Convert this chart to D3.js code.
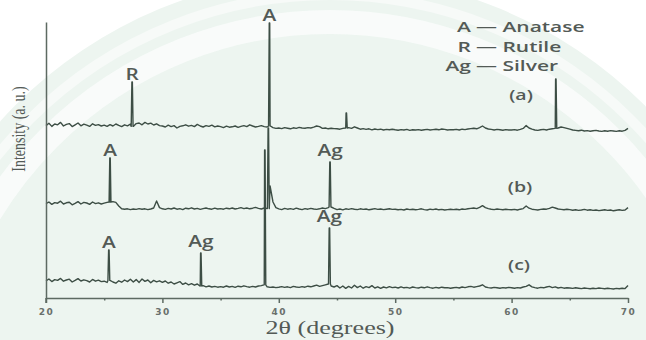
<!DOCTYPE html>
<html>
<head>
<meta charset="utf-8">
<script src="https://cdn.jsdelivr.net/npm/d3@7"></script>
<style>
  html, body { margin: 0; padding: 0; background: #ffffff; }
  svg { display: block; }
</style>
</head>
<body>
<svg id="chart" width="646" height="340"></svg>
<script>
// XRD patterns of three TiO2 / Ag samples, stacked with vertical offsets.
// Scan: 20–70° 2θ, 0.25° step; intensities in arbitrary counts.
const scanStart = 20, scanStep = 0.25;

const scanA = [
  62,74,58,70,66,78,60,68,72,57,66,75,61,69,64,58,71,63,67,60,
  64,58,67,60,70,63,57,66,61,69,58,72,75,66,78,70,74,65,71,62,
  60,55,64,57,62,50,58,61,66,59,63,57,68,60,55,62,58,64,56,60,
  57,52,59,54,56,60,53,58,62,57,66,60,55,58,62,57,55,60,52,48,
  50,47,52,49,46,51,48,53,50,49,52,50,54,60,57,48,50,46,49,47,
  46,44,48,50,52,48,56,50,44,47,43,46,41,45,42,44,40,43,41,44,
  41,39,42,40,43,38,41,40,42,39,41,43,40,42,44,41,45,43,40,42,
  41,43,40,44,42,45,47,49,46,52,60,50,45,43,40,43,41,39,42,40,
  40,42,39,43,48,62,50,44,40,38,41,43,40,44,46,48,50,55,52,48,
  44,40,38,36,39,35,37,34,36,38,35,33,36,34,37,35,33,36,34,38,
  48
];
const scanB = [
  72,80,68,77,74,84,70,76,79,66,73,82,70,78,75,68,80,72,76,70,
  74,78,80,82,78,60,46,44,46,42,45,43,47,44,46,42,45,50,85,52,
  46,43,48,45,50,44,47,42,49,46,51,45,48,43,47,50,46,44,49,45,
  47,44,49,46,50,45,48,52,47,50,46,49,53,48,45,50,47,160,80,52,
  46,42,48,44,47,43,49,45,42,47,44,48,45,43,46,50,47,52,55,48,
  42,45,41,46,43,47,44,42,46,43,45,41,44,47,43,45,42,44,46,43,
  44,41,43,40,45,42,44,41,43,46,42,40,44,42,45,41,43,40,42,44,
  42,44,41,45,43,46,48,50,47,53,62,52,47,44,42,45,43,41,44,42,
  41,43,40,44,47,60,49,44,42,40,43,45,44,48,54,50,45,43,41,44,
  42,39,41,38,40,43,39,41,38,40,37,39,41,38,40,36,39,41,38,40,
  52
];
const scanC = [
  86,95,82,92,88,98,84,90,94,80,88,97,85,91,87,80,93,84,89,82,
  84,78,88,80,74,86,79,90,82,94,80,92,78,95,83,90,76,88,81,86,
  78,85,74,80,70,76,82,68,75,66,72,64,70,60,62,56,60,55,58,54,
  57,54,60,55,58,53,59,56,61,57,54,58,55,60,62,66,56,53,55,52,
  54,57,53,56,52,58,55,53,57,54,59,56,60,64,58,62,66,70,60,55,
  62,50,60,48,58,50,64,52,60,49,57,52,62,50,56,48,55,51,57,52,
  54,50,56,51,53,49,55,52,50,54,51,56,52,49,53,50,54,51,52,49,
  51,53,50,55,52,56,58,54,57,60,66,55,52,50,53,51,49,52,50,53,
  51,49,52,50,55,58,66,56,52,49,53,51,55,58,52,56,50,53,49,51,
  50,48,51,49,47,50,48,46,49,47,50,48,46,49,47,45,48,46,49,47,
  62
];

// Sharp reflections: position (2θ), peak intensity, phase label
const peakAngleA = [27.4, 39.2, 45.8, 63.8];
const peakValueA = [280, 575, 125, 295];
const peakLabelA = ["R", "A", "", ""];

const peakAngleB = [25.5, 39.1, 44.4];
const peakValueB = [300, 450, 280];
const peakLabelB = ["A", "", "Ag"];

const peakAngleC = [25.4, 33.3, 38.8, 44.35];
const peakValueC = [240, 225, 740, 350];
const peakLabelC = ["A", "Ag", "", "Ag"];

// Vertical offsets used to stack the patterns
const sampleNames = ["(a)", "(b)", "(c)"];
const sampleOffsets = [800, 400, 0];

const xTicks = [20, 30, 40, 50, 60, 70];
const xMinorTicks = [25, 35, 45, 55, 65];

const legendKeys = ["A", "R", "Ag"];
const legendNames = ["Anatase", "Rutile", "Silver"];

const svg = d3.select("#chart");
const W = 646, H = 340;
const margin = { left: 46, right: 18, top: 22, bottom: 42 };

// ---- background: pale tinted field with a faint circular emblem ----
const bg = svg.append("g");
bg.append("rect").attr("width", W).attr("height", H).attr("fill", "#ffffff");
bg.append("circle").attr("cx", 330).attr("cy", 420).attr("r", 445).attr("fill", "#edf5f0");
bg.append("circle").attr("cx", 330).attr("cy", 420).attr("r", 425)
  .attr("fill", "none").attr("stroke", "#f7faf8").attr("stroke-width", 10);
bg.append("circle").attr("cx", 330).attr("cy", 420).attr("r", 398)
  .attr("fill", "none").attr("stroke", "#fafcfb").attr("stroke-width", 24).attr("opacity", 0.9);

const x = d3.scaleLinear().domain([20, 70]).range([margin.left, W - margin.right]);
const y = d3.scaleLinear().domain([0, 1380]).range([H - margin.bottom, margin.top]);

const sansFont = "'Open Sans', sans-serif";
const serifFont = "'Liberation Serif', serif";
const textColor = "#535a56";
const lineColor = "#3d4e45";

// Text drawn with a wide horizontal aspect
function wideText(parent, px, py, str, opts) {
  const o = Object.assign({ size: 16, sx: 1.35, anchor: "middle", weight: 600, font: sansFont }, opts);
  return parent.append("text")
    .attr("transform", `translate(${px},${py}) scale(${o.sx},1)`)
    .attr("text-anchor", o.anchor)
    .attr("font-family", o.font)
    .attr("font-weight", o.weight)
    .attr("font-size", o.size)
    .attr("fill", o.color || textColor)
    .text(str);
}

// Build a drawable profile: scan points plus narrow reflections
function profile(scan, angles, values) {
  const pts = scan.map((v, i) => ({ t: scanStart + i * scanStep, v }));
  const near = t => scan[Math.max(0, Math.min(scan.length - 1, Math.round((t - scanStart) / scanStep)))];
  angles.forEach((t, k) => {
    pts.push({ t: t - 0.08, v: near(t) });
    pts.push({ t: t - 0.02, v: values[k] });
    pts.push({ t: t + 0.02, v: values[k] });
    pts.push({ t: t + 0.08, v: near(t) });
  });
  return pts.sort((a, b) => a.t - b.t);
}

const samples = [
  { scan: scanA, angles: peakAngleA, values: peakValueA, labels: peakLabelA },
  { scan: scanB, angles: peakAngleB, values: peakValueB, labels: peakLabelB },
  { scan: scanC, angles: peakAngleC, values: peakValueC, labels: peakLabelC }
];

samples.forEach((s, i) => {
  const off = sampleOffsets[i];
  const line = d3.line().x(d => x(d.t)).y(d => y(d.v + off));
  svg.append("path")
    .datum(profile(s.scan, s.angles, s.values))
    .attr("d", line)
    .attr("fill", "none")
    .attr("stroke", lineColor)
    .attr("stroke-width", 1.4)
    .attr("stroke-linejoin", "round");

  s.labels.forEach((lab, k) => {
    if (!lab) return;
    wideText(svg, x(s.angles[k]), y(s.values[k] + off) - (lab === "Ag" ? 6 : 2), lab,
      { size: 16, sx: 1.3 });
  });
});

// Sample tags
const tagPos = [[521, 100], [520, 192], [519, 270]];
sampleNames.forEach((n, i) => {
  wideText(svg, tagPos[i][0], tagPos[i][1], n, { size: 15, sx: 1.3 });
});

// Phase key, aligned on the dash
const keyDashX = 476;
legendKeys.forEach((k, i) => {
  const yy = 32 + i * 19.5;
  wideText(svg, keyDashX - 5, yy, k, { size: 15, sx: 1.4, anchor: "end" });
  wideText(svg, keyDashX, yy, "\u2014 " + legendNames[i], { size: 15, sx: 1.4, anchor: "start" });
});

// Axes
const axisColor = "#5d6a62";
const gx = svg.append("g").attr("transform", `translate(0,${y(0)})`)
  .call(d3.axisBottom(x).tickValues(xTicks).tickSize(5).tickSizeOuter(0).tickFormat(d3.format("d")));
gx.select(".domain").attr("stroke", axisColor).attr("stroke-width", 1.5);
gx.selectAll(".tick line").attr("stroke", axisColor).attr("stroke-width", 1.5);
gx.selectAll(".tick text")
  .attr("fill", "#6a706c")
  .attr("font-family", "'DejaVu Sans', sans-serif")
  .attr("font-weight", "bold")
  .attr("font-size", 9)
  .attr("letter-spacing", 1.5)
  .attr("dy", "0.95em");

const gxm = svg.append("g").attr("transform", `translate(0,${y(0)})`)
  .call(d3.axisBottom(x).tickValues(xMinorTicks).tickSize(2.5).tickFormat(""));
gxm.select(".domain").remove();
gxm.selectAll(".tick line").attr("stroke", axisColor).attr("stroke-width", 1.5);

const gy = svg.append("g").attr("transform", `translate(${margin.left},0)`)
  .call(d3.axisLeft(y).tickValues([]).tickSizeOuter(0));
gy.select(".domain").attr("stroke", axisColor).attr("stroke-width", 1.5);
svg.append("line")
  .attr("x1", margin.left).attr("x2", margin.left)
  .attr("y1", y(0)).attr("y2", y(0) + 5)
  .attr("stroke", axisColor).attr("stroke-width", 1.5);

// Axis titles
svg.append("text")
  .attr("transform", `translate(25,129) rotate(-90) scale(1,1.4)`)
  .attr("text-anchor", "middle")
  .attr("font-family", serifFont)
  .attr("font-size", 14)
  .attr("fill", textColor)
  .text("Intensity (a. u.)");

wideText(svg, 330, 334, "2θ (degrees)", { size: 18, sx: 1.45, font: serifFont, weight: 400 });
</script>
</body>
</html>
